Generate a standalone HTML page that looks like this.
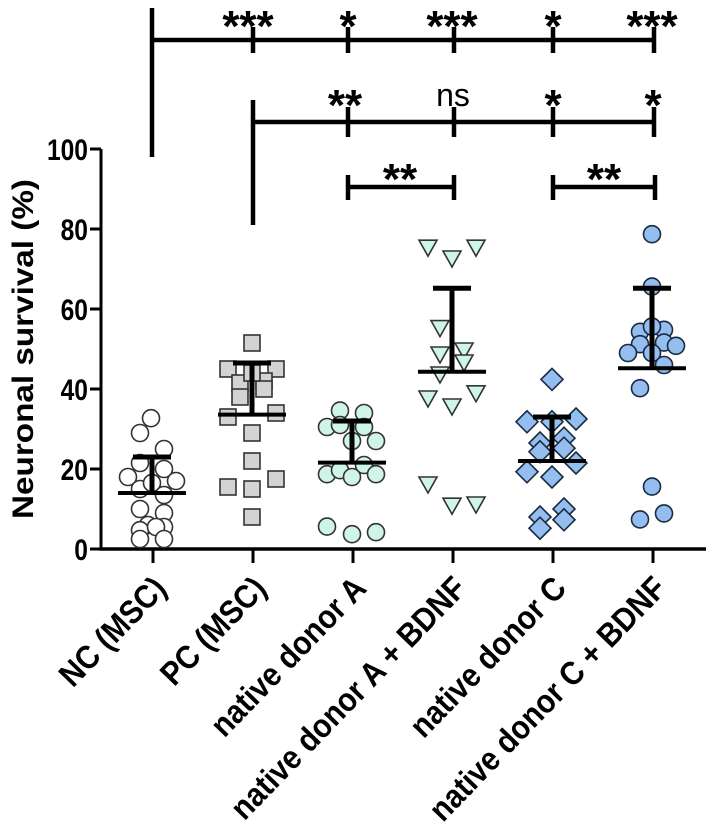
<!DOCTYPE html>
<html><head><meta charset="utf-8"><style>
html,body{margin:0;padding:0;background:#fff;}
svg{display:block;font-family:"Liberation Sans",Arial,sans-serif;}
</style></head><body>
<svg id="chart" width="709" height="828" viewBox="0 0 709 828">
<g id="axes"></g><g id="brackets"></g><g id="marks"></g><g id="labels"></g>
</svg>
<script>
const categories=["NC (MSC)","PC (MSC)","native donor A","native donor A + BDNF","native donor C","native donor C + BDNF"];
const yTicks=[0,20,40,60,80,100];
const means=[14,33.6,21.6,44.3,22,45.2];
const sdTop=[23,46.5,32,65.2,33,65.2];
const offsets=[[-1,-12,12,-12,12,-24,24,-12,0,12,-12,12,-4,12,-12,4,-12,12],
 [0,-24,24,-12,12,-12,12,-24,24,0,0,-24,0,24,0,0],
 [-12,12,-25,-12,12,0,24,12,-25,-12,0,24,-25,0,24],
 [-24,0,24,-12,-12,12,12,-12,-24,0,24,-24,0,24],
 [0,-25,24,0,-12,12,-12,12,24,-25,0,-12,12,-12,12],
 [0,0,-12,12,0,-12,12,24,-24,0,12,-12,0,12,-12]];
const values=[[32.7,29,25,21.5,20,18,17,15,16.5,13.5,10,9,6,5.5,4.7,5.5,2.5,2.5],
 [51.5,45,45,41.5,42,38,40,33,34,44,29,15.5,22,17.5,15,8],
 [34.6,34,30.5,31,30.5,27,27,21,18.7,19.7,18,18.7,5.6,3.7,4.2],
 [75.7,73,75.7,55.6,49,50,47,44,38,36,39.3,16.5,11.2,11.5],
 [42.4,31.8,32.5,31.8,26.5,27.7,24.3,25.2,21.5,19.3,18,8,10,5.2,7.3],
 [78.7,65.6,54.3,54.8,55.6,51.2,51.6,50.8,49,49,46,40.2,15.6,8.9,7.4]];
const shapes=["circle","square","circle","triangle","diamond","circle"];
const fills=["#ffffff","#d3d3d3","#cff5e7","#cff5e7","#94bdf0","#94bdf0"];
const NS="http://www.w3.org/2000/svg";
const X0=152,DX=100,Y0=549,PPU=4;
const xs=i=>X0+i*DX, ys=v=>Y0-v*PPU;
function mk(tag,attrs,parent,txt){const e=document.createElementNS(NS,tag);for(const k in attrs)e.setAttribute(k,attrs[k]);if(txt!==undefined)e.textContent=txt;parent.appendChild(e);return e;}
const axes=document.getElementById('axes'),marks=document.getElementById('marks'),labels=document.getElementById('labels'),br=document.getElementById('brackets');
let l=mk('line',{x1:101,y1:ys(100),x2:101,y2:Y0+1.5,stroke:'#000','stroke-width':3},axes);


l=mk('line',{x1:99.5,y1:Y0,x2:706,y2:Y0,stroke:'#000','stroke-width':3.5},axes);


yTicks.forEach(t=>{
 let tk=mk('line',{x1:90,y1:ys(t),x2:101,y2:ys(t),stroke:'#000','stroke-width':3},axes);
 
 
 let tx=mk('text',{x:88,y:ys(t)+11,'text-anchor':'end','font-size':30,'font-weight':'bold',transform:`translate(88 0) scale(0.82 1) translate(-88 0)`},labels,t);
 
 
});
let yt=mk('text',{x:0,y:0,'text-anchor':'middle','font-size':30,'font-weight':'bold',textLength:340,lengthAdjust:'spacingAndGlyphs',transform:'translate(33 349) rotate(-90)'},labels,'Neuronal survival (%)');


categories.forEach((c,i)=>{
 let tk=mk('line',{x1:xs(i)+1,y1:Y0,x2:xs(i)+1,y2:Y0+14,stroke:'#000','stroke-width':3},axes);
 
 
 let tx=mk('text',{x:0,y:0,'text-anchor':'end','font-size':33,'font-weight':'bold',transform:`translate(${xs(i)+16} 590) rotate(-46) scale(0.9 1)`},labels,c);
 
 
});
values.forEach((arr,i)=>{
 const g=mk('g',{},marks);
 
 
 arr.forEach((v,j)=>{
  const cx=xs(i)+offsets[i][j],cy=ys(v);let e;
  const st={fill:fills[i],stroke:i>=4?'#1a2a40':'#333','stroke-width':1.6};
  if(shapes[i]==='circle')e=mk('circle',Object.assign({cx,cy,r:8.5},st),g);
  else if(shapes[i]==='square')e=mk('rect',Object.assign({x:cx-8,y:cy-8,width:16,height:16},st),g);
  else if(shapes[i]==='triangle')e=mk('polygon',Object.assign({points:`${cx-9},${cy-6} ${cx+9},${cy-6} ${cx},${cy+10}`},st),g);
  else e=mk('polygon',Object.assign({points:`${cx},${cy-11} ${cx+11},${cy} ${cx},${cy+11} ${cx-11},${cy}`},st),g);
  
  
 });
 let m=mk('line',{x1:xs(i)-34,y1:ys(means[i]),x2:xs(i)+34,y2:ys(means[i]),stroke:'#000','stroke-width':4},g);
 
 
 let eb=mk('line',{x1:xs(i),y1:ys(means[i]),x2:xs(i),y2:ys(sdTop[i]),stroke:'#000','stroke-width':5},g);
 
 
 let cap=mk('line',{x1:xs(i)-19,y1:ys(sdTop[i]),x2:xs(i)+19,y2:ys(sdTop[i]),stroke:'#000','stroke-width':5},g);
 
 
});
function seg(x1,y1,x2,y2){const e=mk('line',{x1,y1,x2,y2,stroke:'#000','stroke-width':4.5},br);}
function star(x,y,t){const ns=t==='ns';const e=mk('text',{x,y,'text-anchor':'middle','font-size':ns?32:44,'font-weight':ns?'normal':'bold'},br,t);}
seg(152,8,152,157);seg(152,40,654,40);
[253,348,454,553,654].forEach(x=>seg(x,27,x,53));
["***","*","***","*","***"].forEach((t,k)=>star([248,348,452,553,652][k],41,t));
seg(253,100,253,225);seg(253,122,654,122);
[348,454,553,654].forEach(x=>seg(x,107,x,137));
star(345,120,"**");star(453,106,"ns");star(553,120,"*");star(653,120,"*");
seg(348,187,454,187);seg(348,175,348,200);seg(454,175,454,200);
seg(553,187,655,187);seg(553,175,553,200);seg(655,175,655,200);
star(400,194,"**");star(604,194,"**");
</script>
</body></html>
